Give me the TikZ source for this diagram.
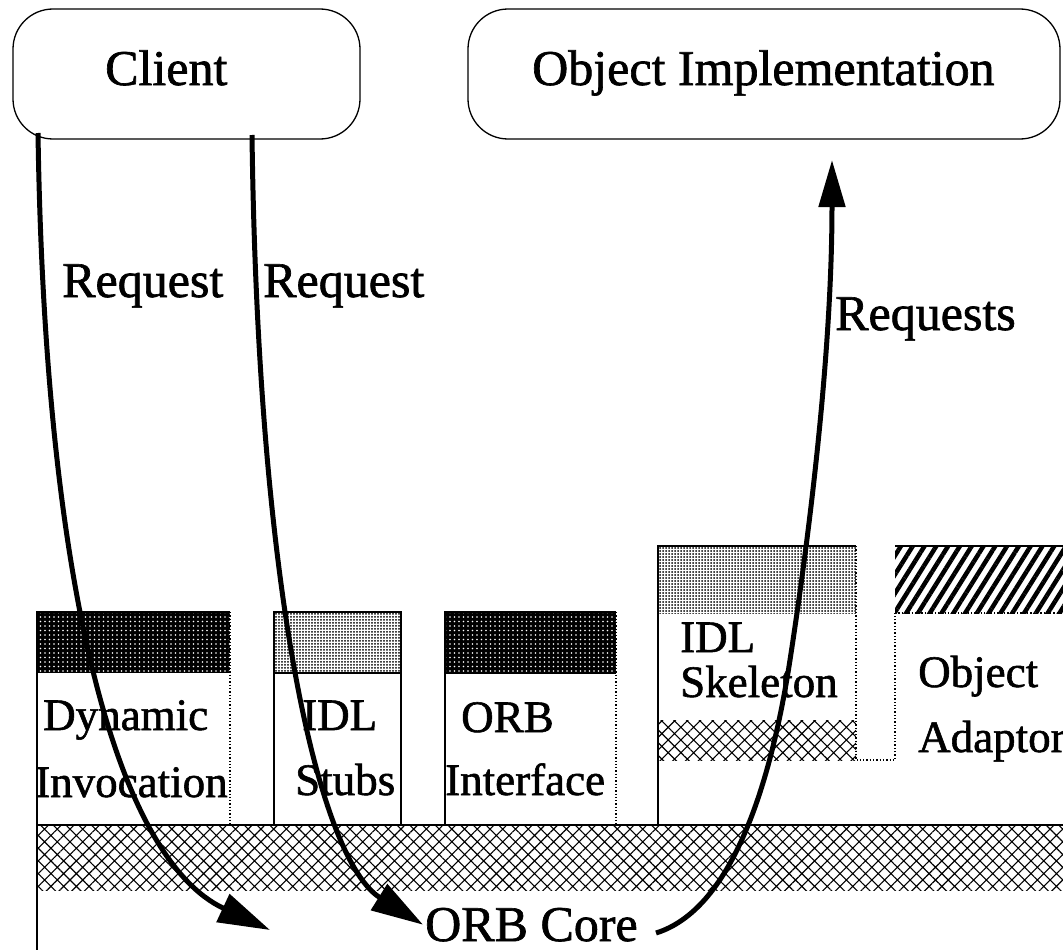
\documentclass[tikz,border=0pt]{standalone}
\usepackage{fontspec}
\setmainfont{Liberation Serif}[BoldFont=Liberation Serif, BoldFeatures={FakeBold=1.3}]
\usetikzlibrary{patterns.meta,arrows.meta}

\begin{document}
\begin{tikzpicture}[x=1pt,y=-1pt,
  big/.style={font=\fontsize{50}{56}\selectfont\bfseries, inner sep=0pt, anchor=base west},
  small/.style={font=\fontsize{45}{50}\selectfont\bfseries, inner sep=0pt, anchor=base west},
  roundbox/.style={draw, line width=1.3pt, rounded corners=40pt, inner sep=0pt},
  edge/.style={line width=1.3pt},
  dotedge/.style={line width=1.3pt, dash pattern=on 1.3pt off 2pt},
  req/.style={line width=5pt, -{Triangle[length=52pt,width=30pt]}},
  darkstip/.style={preaction={fill=black}, pattern={Dots[distance=4.5pt,radius=0.9pt]}, pattern color=white},
  lightstip/.style={pattern={Dots[distance=3pt,radius=1pt]}, pattern color=black},
  xhatch/.style={pattern={Hatch[angle=45,distance=9pt,line width=1.1pt]}, pattern color=black},
  diaghatch/.style={pattern={Lines[angle=58,distance=10pt,line width=4.5pt]}, pattern color=black}
]
\useasboundingbox (0,0) rectangle (1063,950);

% top-level components
\node[roundbox, minimum width=347pt, minimum height=130pt] (client) at (186.5,74) {};
\node[roundbox, minimum width=592pt, minimum height=130pt] (impl) at (764,74) {};
\node[big] (clientlbl) at (105,85) {Client};
\node[big] (impllbl) at (532,85) {Object Implementation};

% ORB core layer
\path[xhatch] (37,825) rectangle (1063,890);
\draw[edge] (37,950) -- (37,825) -- (1063,825);
\node[big] (core) at (425,941) {ORB Core};

% Dynamic Invocation
\path[darkstip] (37,612) rectangle (230,673);
\draw[edge] (37,825) -- (37,612) -- (230,612);
\draw[dotedge] (230,612) -- (230,825);
\node[small] (dyn) at (43,730) {Dynamic};
\node[small] (inv) at (35,797) {Invocation};

% IDL Stubs
\path[lightstip] (274,612) rectangle (401,673);
\draw[edge] (274,825) -- (274,612) -- (401,612) -- (401,825);
\draw[edge] (274,673) -- (401,673);
\node[small] (stubidl) at (302,730) {IDL};
\node[small] (stubs) at (295,795) {Stubs};

% ORB Interface
\path[darkstip] (445,612) rectangle (616,674);
\draw[edge] (445,825) -- (445,612) -- (616,612);
\draw[dotedge] (616,612) -- (616,825);
\node[small] (orbi) at (461,732) {ORB};
\node[small] (iface) at (445,795) {Interface};

% IDL Skeleton
\path[lightstip] (658,546) rectangle (856,613);
\path[xhatch] (658,720) rectangle (856,760);
\draw[edge] (658,825) -- (658,546) -- (856,546);
\draw[dotedge] (856,546) -- (856,760) -- (895,760) -- (895,613);
\node[small] (skelidl) at (680,652) {IDL};
\node[small] (skel) at (680,697) {Skeleton};

% Object Adaptor
\path[diaghatch] (895,546) rectangle (1063,613);
\draw[edge] (895,546) -- (1063,546);
\draw[dotedge] (895,613) -- (1063,613);
\node[small] (adobj) at (918,687) {Object};
\node[small] (adapt) at (918,752) {Adaptor};

% request paths
\coordinate (s1) at (38,133);
\coordinate (e1) at (270,930);
\coordinate (s2) at (252,135);
\coordinate (s3) at (656,933);
\coordinate (e3) at (832,160);
\draw[req] (s1) .. controls (45,600) and (120,860) .. (e1);
\draw[req] (s2) .. controls (258,600) and (320,860) .. ([xshift=-2pt]core.west);
\draw[req, -{Triangle[length=47pt,width=26pt]}] (s3) .. controls (730,910) and (770,790) .. (790,660)
   .. controls (810,530) and (832,350) .. (e3);

\node[big] (reqa) at (62,297) {Request};
\node[big] (reqb) at (263,297) {Request};
\node[big] (reqc) at (835,330) {Requests};
\end{tikzpicture}
\end{document}
